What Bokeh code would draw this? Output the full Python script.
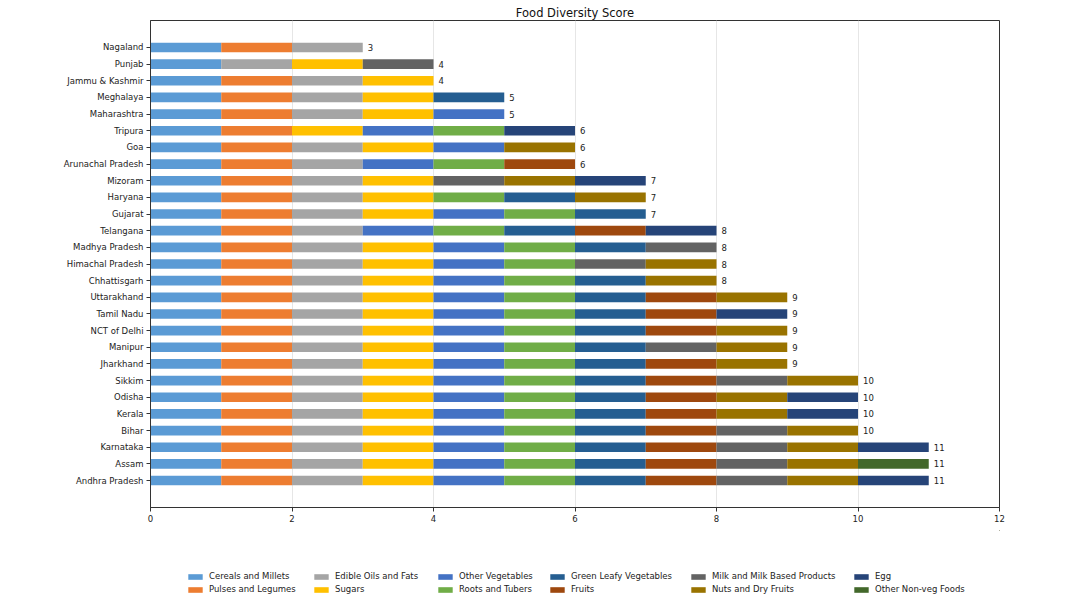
from bokeh.plotting import figure
from bokeh.layouts import column
from bokeh.models import ColumnDataSource, Range1d, FixedTicker, Legend, LegendItem
from bokeh.core.properties import value
from bokeh.embed import file_html
from bokeh.resources import INLINE

# States, bottom row first
states = ["Andhra Pradesh", "Assam", "Karnataka", "Bihar", "Kerala", "Odisha", "Sikkim",
          "Jharkhand", "Manipur", "NCT of Delhi", "Tamil Nadu", "Uttarakhand", "Chhattisgarh",
          "Himachal Pradesh", "Madhya Pradesh", "Telangana", "Gujarat", "Haryana", "Mizoram",
          "Arunachal Pradesh", "Goa", "Tripura", "Maharashtra", "Meghalaya", "Jammu & Kashmir",
          "Punjab", "Nagaland"]

groups = ["Cereals and Millets", "Pulses and Legumes", "Edible Oils and Fats", "Sugars",
          "Other Vegetables", "Roots and Tubers", "Green Leafy Vegetables", "Fruits",
          "Milk and Milk Based Products", "Nuts and Dry Fruits", "Egg", "Other Non-veg Foods"]

# 1 = food group consumed in the state (same order as states)
cereals      = [1, 1, 1, 1, 1, 1, 1, 1, 1, 1, 1, 1, 1, 1, 1, 1, 1, 1, 1, 1, 1, 1, 1, 1, 1, 1, 1]
pulses       = [1, 1, 1, 1, 1, 1, 1, 1, 1, 1, 1, 1, 1, 1, 1, 1, 1, 1, 1, 1, 1, 1, 1, 1, 1, 0, 1]
oils         = [1, 1, 1, 1, 1, 1, 1, 1, 1, 1, 1, 1, 1, 1, 1, 1, 1, 1, 1, 1, 1, 0, 1, 1, 1, 1, 1]
sugars       = [1, 1, 1, 1, 1, 1, 1, 1, 1, 1, 1, 1, 1, 1, 1, 0, 1, 1, 1, 0, 1, 1, 1, 1, 1, 1, 0]
other_veg    = [1, 1, 1, 1, 1, 1, 1, 1, 1, 1, 1, 1, 1, 1, 1, 1, 1, 0, 0, 1, 1, 1, 1, 0, 0, 0, 0]
roots        = [1, 1, 1, 1, 1, 1, 1, 1, 1, 1, 1, 1, 1, 1, 1, 1, 1, 1, 0, 1, 0, 1, 0, 0, 0, 0, 0]
green_leafy  = [1, 1, 1, 1, 1, 1, 1, 1, 1, 1, 1, 1, 1, 0, 1, 1, 1, 1, 0, 0, 0, 0, 0, 1, 0, 0, 0]
fruits       = [1, 1, 1, 1, 1, 1, 1, 1, 0, 1, 1, 1, 0, 0, 0, 1, 0, 0, 0, 1, 0, 0, 0, 0, 0, 0, 0]
milk         = [1, 1, 1, 1, 0, 0, 1, 0, 1, 0, 0, 0, 0, 1, 1, 0, 0, 0, 1, 0, 0, 0, 0, 0, 0, 1, 0]
nuts         = [1, 1, 1, 1, 1, 1, 1, 1, 1, 1, 0, 1, 1, 1, 0, 0, 0, 1, 1, 0, 1, 0, 0, 0, 0, 0, 0]
egg          = [1, 0, 1, 0, 1, 1, 0, 0, 0, 0, 1, 0, 0, 0, 0, 1, 0, 0, 1, 0, 0, 1, 0, 0, 0, 0, 0]
other_nonveg = [0, 1, 0, 0, 0, 0, 0, 0, 0, 0, 0, 0, 0, 0, 0, 0, 0, 0, 0, 0, 0, 0, 0, 0, 0, 0, 0]

colors = ["#5b9bd5", "#ed7d31", "#a5a5a5", "#ffc000", "#4472c4", "#70ad47",
          "#255e91", "#9e480e", "#636363", "#997300", "#264478", "#43682b"]

columns = [cereals, pulses, oils, sugars, other_veg, roots, green_leafy, fruits,
           milk, nuts, egg, other_nonveg]
keys = ["g%d" % i for i in range(len(groups))]

data = {"y": list(range(len(states)))}
for k, col in zip(keys, columns):
    data[k] = col
scores = [sum(vals) for vals in zip(*columns)]
data["score"] = scores
data["label"] = [str(s) for s in scores]
source = ColumnDataSource(data)

FONT = "DejaVu Sans"
FS = "8.5px"

p = figure(width=1068, height=530, output_backend="svg", toolbar_location=None,
           x_range=Range1d(0, 12), y_range=Range1d(-1.62, len(states) - 1 + 1.62),
           title="Food Diversity Score",
           min_border_left=150, min_border_right=69, min_border_top=20, min_border_bottom=23)

renderers = p.hbar_stack(keys, y="y", height=0.58, color=colors, line_color=None, source=source)

p.text(x="score", y="y", text="label", source=source, x_offset=5,
       text_baseline="middle", text_align="left", text_font=value(FONT),
       text_font_size=FS, text_color="#222222")

# title
p.title.align = "center"
p.title.text_font = FONT
p.title.text_font_size = "11.5px"
p.title.text_font_style = "normal"
p.title.text_color = "#111111"
p.title.standoff = 2

# axes
p.xaxis.ticker = FixedTicker(ticks=[0, 2, 4, 6, 8, 10, 12])
p.yaxis.ticker = FixedTicker(ticks=list(range(len(states))))
p.yaxis.major_label_overrides = {i: s for i, s in enumerate(states)}
for ax in (p.xaxis[0], p.yaxis[0]):
    ax.major_label_text_font = FONT
    ax.major_label_text_font_size = FS
    ax.major_label_text_color = "#222222"
    ax.axis_line_color = "#333333"
    ax.major_tick_line_color = "#333333"
    ax.major_tick_out = 4
    ax.major_tick_in = 0
    ax.minor_tick_line_color = None
    ax.major_label_standoff = 3

p.outline_line_color = "#333333"
p.outline_line_width = 1
p.xgrid.grid_line_color = "#e6e6e6"
p.ygrid.grid_line_color = None

# legend strip: a bare canvas under the chart holding six two-row legend columns
leg = figure(width=1068, height=72, output_backend="svg", toolbar_location=None,
             x_range=Range1d(0, 1), y_range=Range1d(0, 1),
             x_axis_location=None, y_axis_location=None,
             min_border_left=0, min_border_right=0, min_border_top=0, min_border_bottom=0)
leg.outline_line_color = None
leg.xgrid.grid_line_color = None
leg.ygrid.grid_line_color = None
# swatch glyphs sit outside the strip's visible range; only their legend entries show
swatches = [leg.hbar(y=[5], left=[5], right=[6], height=0.5, color=c, line_color=None)
            for c in colors]

# column x positions relative to the strip's frame, which lines up with the chart's frame
col_left = [36, 162, 286, 398, 539, 702]
for c, x0 in enumerate(col_left):
    items = [LegendItem(label=groups[i], renderers=[swatches[i]]) for i in (2 * c, 2 * c + 1)]
    lg = Legend(items=items, orientation="vertical", location=(x0, 8),
                label_text_font=FONT, label_text_font_size=FS, label_text_color="#222222",
                glyph_width=18, glyph_height=7, label_standoff=5, spacing=3,
                padding=0, margin=0, label_height=10,
                border_line_color=None, background_fill_alpha=0)
    leg.add_layout(lg, "center")

page = column(p, leg, spacing=0)
open("out.html", "w").write(file_html(page, INLINE))
